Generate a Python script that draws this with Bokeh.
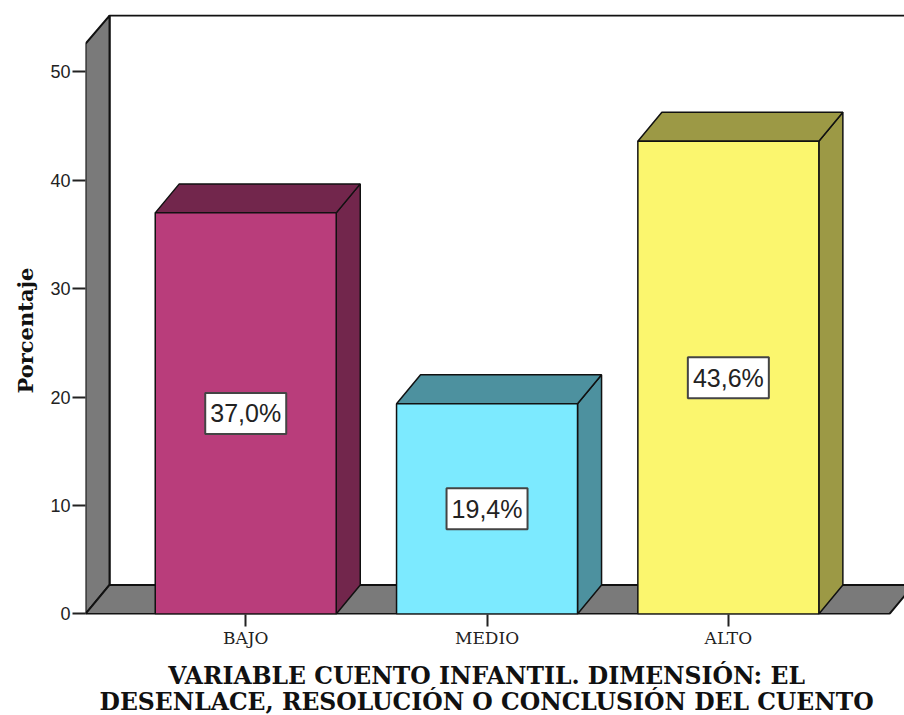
from bokeh.plotting import figure
from bokeh.embed import file_html
from bokeh.resources import INLINE
from bokeh.models import Range1d, FixedTicker, Title
from bokeh.core.properties import value

categories = ["BAJO", "MEDIO", "ALTO"]
percent = [37.0, 19.4, 43.6]
labels = ["37,0%", "19,4%", "43,6%"]
positions = [1, 2, 3]
y_ticks = [0, 10, 20, 30, 40, 50]

front_colors = ["#b93d7b", "#7ceaff", "#fbf66e"]
dark_colors = ["#72264c", "#4d919f", "#9c9945"]
wall_color = "#7a7a7a"

DX, DY = 0.0996, 2.675
BAR_W = 0.75
X0, X1, XMAX, YMIN, YMAX, Y_WALL_TOP = 0.336, 3.668, 3.73, -0.05, 55.3, 52.6

p = figure(frame_width=819, frame_height=600, x_range=Range1d(X0, XMAX), y_range=Range1d(YMIN, YMAX),
           output_backend="svg", toolbar_location=None, min_border_left=85, min_border_right=0,
           min_border_top=14, min_border_bottom=101, outline_line_color=None, background_fill_color="white")
p.grid.visible = False

# back wall lines
p.line([X0 + DX, X0 + DX, XMAX], [DY, YMAX - 0.1, YMAX - 0.1], line_color="#111111", line_width=2)
# left wall
p.patch([X0, X0 + DX, X0 + DX, X0], [0, DY, YMAX - 0.1, Y_WALL_TOP], fill_color=wall_color, line_color="#111111", line_width=2)
# floor
p.patch([X0, X1, X1 + DX, X0 + DX], [0, 0, DY, DY], fill_color=wall_color, line_color="#111111", line_width=2)

for i, (x, v) in enumerate(zip(positions, percent)):
    l, r = x - BAR_W / 2, x + BAR_W / 2
    p.patch([r, r + DX, r + DX, r], [0, DY, v + DY, v], fill_color=dark_colors[i], line_color="#111111", line_width=1.5)
    p.patch([l, r, r + DX, l + DX], [v, v, v + DY, v + DY], fill_color=dark_colors[i], line_color="#111111", line_width=1.5)
    p.quad(left=[l], right=[r], bottom=[0], top=[v], fill_color=front_colors[i], line_color="#111111", line_width=1.5)

mids = [v / 2 for v in percent]
p.rect(positions, mids, width=81, height=41, width_units="screen", height_units="screen",
       fill_color="white", line_color="#444444", line_width=2)
p.text(positions, mids, text=labels, text_align="center", text_baseline="middle",
       text_font=value("Liberation Sans"), text_font_size="25px", text_color="#222222")

ax = p.yaxis[0]
ax.ticker = FixedTicker(ticks=y_ticks)
ax.axis_line_color = None
ax.major_tick_out = 13
ax.major_tick_in = 0
ax.minor_tick_line_color = None
ax.major_tick_line_color = "#222222"
ax.major_tick_line_width = 2
ax.major_label_standoff = 2
ax.major_label_text_font = "Liberation Sans"
ax.major_label_text_font_size = "18px"
ax.major_label_text_color = "#222222"

bx = p.xaxis[0]
bx.ticker = FixedTicker(ticks=positions)
bx.major_label_overrides = dict(zip(positions, categories))
bx.axis_line_color = None
bx.major_tick_out = 12
bx.major_tick_in = 0
bx.minor_tick_line_color = None
bx.major_tick_line_color = "#222222"
bx.major_tick_line_width = 2
bx.major_label_standoff = 1
bx.major_label_text_font = "DejaVu Serif"
bx.major_label_text_font_size = "17px"
bx.major_label_text_color = "#222222"

title_lines = ["VARIABLE CUENTO INFANTIL. DIMENSIÓN: EL", "DESENLACE, RESOLUCIÓN O CONCLUSIÓN DEL CUENTO"]
p.add_layout(Title(text="\n".join(title_lines), align="left", offset=14, standoff=18, text_align="center", text_font="DejaVu Serif",
                   text_font_style="bold", text_font_size="23.5px", text_line_height=0.95, text_color="#111111"), "below")
p.add_layout(Title(text="Porcentaje", align="left", offset=221, standoff=20, text_font="DejaVu Serif",
                   text_font_style="bold", text_font_size="21px", text_color="#111111"), "left")

open("out.html", "w").write(file_html(p, INLINE))
